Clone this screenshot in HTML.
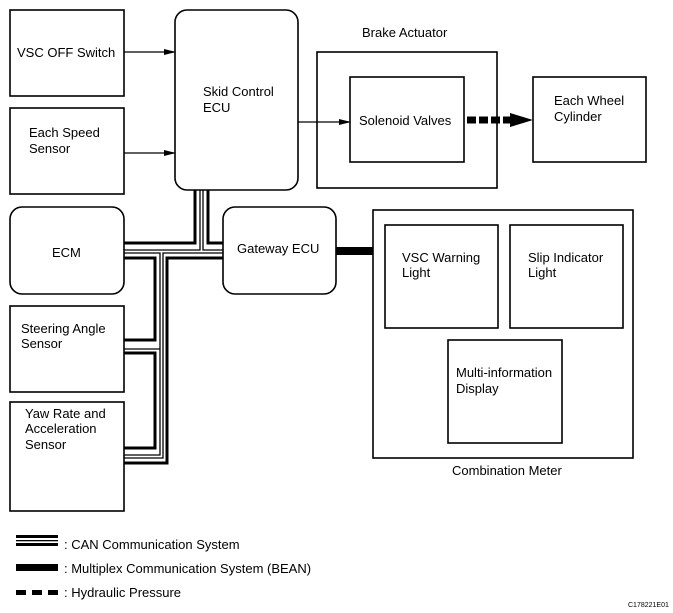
<!DOCTYPE html>
<html><head><style>
body{margin:0;background:#fff;}
svg{display:block;font-family:"Liberation Sans",Arial,sans-serif;}
</style></head><body>
<svg width="673" height="613" viewBox="0 0 673 613" xmlns="http://www.w3.org/2000/svg">
<defs>
<marker id="ar" markerWidth="12" markerHeight="8" refX="11" refY="4" orient="auto" markerUnits="userSpaceOnUse"><path d="M0,1 L12,4 L0,7z" fill="#000"/></marker>
</defs>
<g fill="none" stroke="#000" stroke-width="1.6">
<rect x="10" y="10" width="114" height="86"/>
<rect x="10" y="108" width="114" height="86"/>
<rect x="175" y="10" width="123" height="180" rx="12"/>
<rect x="317" y="52" width="180" height="136"/>
<rect x="350" y="77" width="114" height="85"/>
<rect x="533" y="77" width="113" height="85"/>
<rect x="10" y="207" width="114" height="87" rx="12"/>
<rect x="223" y="207" width="113" height="87" rx="12"/>
<rect x="373" y="210" width="260" height="248"/>
<rect x="385" y="225" width="113" height="103"/>
<rect x="510" y="225" width="113" height="103"/>
<rect x="448" y="340" width="114" height="103"/>
<rect x="10" y="306" width="114" height="86"/>
<rect x="10" y="402" width="114" height="109"/>
<line x1="124" y1="52" x2="175" y2="52" stroke-width="1.2" marker-end="url(#ar)"/>
<line x1="124" y1="153" x2="175" y2="153" stroke-width="1.2" marker-end="url(#ar)"/>
<line x1="298" y1="122" x2="350" y2="122" stroke-width="1.2" marker-end="url(#ar)"/>
</g>
<!-- hydraulic -->
<line x1="467" y1="120" x2="512" y2="120" stroke="#000" stroke-width="7" stroke-dasharray="9,3"/>
<path d="M510,113 L533,120 L510,127z" fill="#000"/>
<!-- BEAN -->
<line x1="336" y1="251" x2="373" y2="251" stroke="#000" stroke-width="8"/>
<!-- CAN bus -->
<g fill="none" stroke="#000" stroke-linejoin="miter">
<path d="M124,243 H195 V190" stroke-width="3"/>
<path d="M208,190 V243 H223" stroke-width="3"/>
<path d="M124,250 H200 V190" stroke-width="1.3"/>
<path d="M203,190 V250 H223" stroke-width="1.3"/>
<path d="M124,253 H160 V455 H124" stroke-width="1.3"/>
<path d="M160,349 H124" stroke-width="1.3"/>
<path d="M223,253 H163 V458 H124" stroke-width="1.3"/>
<path d="M223,258 H167 V463 H124" stroke-width="3"/>
<path d="M124,258 H155 V340 H124" stroke-width="3"/>
<path d="M124,353 H155 V448 H124" stroke-width="3"/>
</g>
<!-- legend -->
<g fill="#000">
<rect x="16" y="535" width="42" height="3"/>
<rect x="16" y="540" width="42" height="1.3"/>
<rect x="16" y="543" width="42" height="3"/>
<rect x="16" y="564" width="42" height="7"/>
<rect x="16" y="590" width="10" height="5"/>
<rect x="32" y="590" width="10" height="5"/>
<rect x="48" y="590" width="10" height="5"/>
</g>
<g font-size="13" fill="#000">
<text x="17" y="57">VSC OFF Switch</text>
<text x="29" y="137">Each Speed</text>
<text x="29" y="153">Sensor</text>
<text x="203" y="96">Skid Control</text>
<text x="203" y="112">ECU</text>
<text x="362" y="37">Brake Actuator</text>
<text x="359" y="125">Solenoid Valves</text>
<text x="554" y="105">Each Wheel</text>
<text x="554" y="121">Cylinder</text>
<text x="52" y="257">ECM</text>
<text x="237" y="253">Gateway ECU</text>
<text x="402" y="262">VSC Warning</text>
<text x="402" y="277">Light</text>
<text x="528" y="262">Slip Indicator</text>
<text x="528" y="277">Light</text>
<text x="456" y="377">Multi-information</text>
<text x="456" y="393">Display</text>
<text x="452" y="475">Combination Meter</text>
<text x="21" y="333">Steering Angle</text>
<text x="21" y="348">Sensor</text>
<text x="25" y="418">Yaw Rate and</text>
<text x="25" y="433">Acceleration</text>
<text x="25" y="449">Sensor</text>
<text x="64" y="549">: CAN Communication System</text>
<text x="64" y="573">: Multiplex Communication System (BEAN)</text>
<text x="64" y="597">: Hydraulic Pressure</text>
</g>
<text x="628" y="607" font-size="7" fill="#000">C178221E01</text>
</svg>
</body></html>
